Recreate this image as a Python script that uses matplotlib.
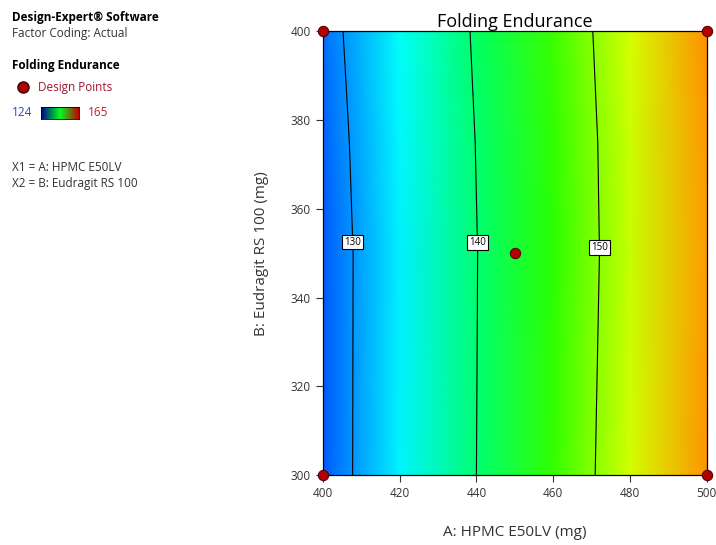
import matplotlib
matplotlib.use("Agg")
import matplotlib.pyplot as plt
from matplotlib.colors import LinearSegmentedColormap
import numpy as np

plt.rcParams['font.family'] = ['Open Sans', 'DejaVu Sans']

# response surface values (rows = B, columns = A)
hpmc = [400, 420, 440, 460, 480, 500]
eudragit = [300, 350, 375, 400]
endurance = [
    [127.6, 133.8, 140.0, 146.5, 152.9, 159.0],
    [127.6, 133.7, 139.9, 146.2, 152.5, 158.7],
    [127.9, 134.0, 140.1, 146.4, 152.6, 158.8],
    [128.4, 134.5, 140.5, 146.8, 153.0, 159.2],
]
levels = [130, 140, 150]
low, high = 124, 165

# design points
pts_a = [400, 400, 500, 500, 450]
pts_b = [300, 400, 300, 400, 350]

de_cmap = LinearSegmentedColormap.from_list(
    "de", ["#0000ff", "#00ffff", "#00ff00", "#ffff00", "#ff0000"])

fig = plt.figure(figsize=(7.16, 5.45), dpi=100)
ax = fig.add_axes([0.451, 0.128, 0.536, 0.815])

A, B = np.meshgrid(hpmc, eudragit)
Z = np.array(endurance)
ax.pcolormesh(A, B, Z, cmap=de_cmap, vmin=low, vmax=high, shading="gouraud")
cs = ax.contour(A, B, Z, levels=levels, colors="black", linewidths=0.8)
lbls = ax.clabel(cs, fmt="%d", fontsize=7, inline=False,
                 manual=[(407.8, 352.5), (440.4, 352.5), (471.9, 351.2)])
for t in lbls:
    t.set_rotation(0)
    t.set_bbox(dict(boxstyle="square,pad=0.2", fc="white", ec="black", lw=0.8))

ax.scatter(pts_a, pts_b, s=55, c="#b00000", edgecolors="#5a0000",
           linewidths=0.8, zorder=5, clip_on=False)

ax.set_xlim(400, 500)
ax.set_ylim(300, 400)
ax.set_xticks(range(400, 501, 20))
ax.set_yticks(range(300, 401, 20))
ax.tick_params(labelsize=8.5, length=5, width=0.8, colors="#333333", labelcolor="#333333")
for s in ax.spines.values():
    s.set_linewidth(0.9)
ax.set_title("Folding Endurance", fontsize=13, pad=1, y=1.005)
ax.set_xlabel("A: HPMC E50LV (mg)", fontsize=11, labelpad=18, color="#333333")
ax.set_ylabel("B: Eudragit RS 100 (mg)", fontsize=11, labelpad=16, color="#333333")

# left info panel
def px(x, y):
    return x / 716, 1 - y / 545

fig.text(*px(12, 17), "Design-Expert\u00ae Software", fontsize=8.5, weight="bold", va="center")
fig.text(*px(12, 33), "Factor Coding: Actual", fontsize=8.5, va="center", color="#333333")
fig.text(*px(12, 66), "Folding Endurance", fontsize=8.5, weight="bold", va="center")
fig.text(*px(38, 87), "Design Points", fontsize=8.5, va="center", color="#a01830")
fig.add_artist(plt.Line2D([23 / 716], [1 - 87 / 545], marker="o", ms=8,
                          mfc="#b00000", mec="#3a0000", transform=fig.transFigure))
fig.text(*px(12, 113), "124", fontsize=8.5, va="center", color="#3040c0")
fig.text(*px(88, 113), "165", fontsize=8.5, va="center", color="#c02020")
cax = fig.add_axes([41 / 716, 1 - 119 / 545, 38 / 716, 12 / 545])
legend_cmap = LinearSegmentedColormap.from_list("lg", ["#000090", "#00ff20", "#c00000"])
cax.imshow(np.linspace(0, 1, 100)[None, :], cmap=legend_cmap, aspect="auto")
cax.set_xticks([])
cax.set_yticks([])
for s in cax.spines.values():
    s.set_linewidth(0.6)
fig.text(*px(12, 167), "X1 = A: HPMC E50LV", fontsize=8.5, va="center", color="#333333")
fig.text(*px(12, 184), "X2 = B: Eudragit RS 100", fontsize=8.5, va="center", color="#333333")

fig.savefig("out.png", dpi=100)
